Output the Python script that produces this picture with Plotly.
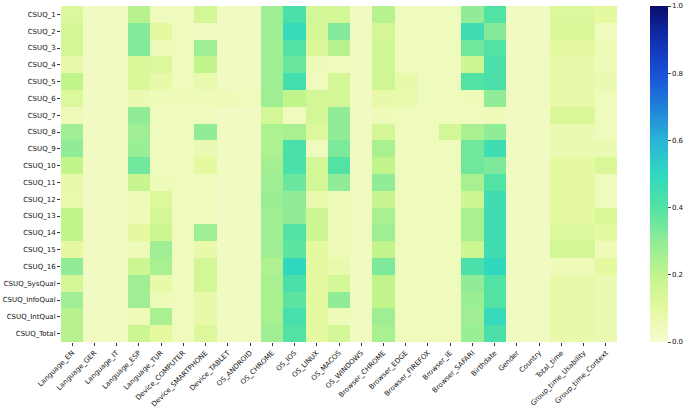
import plotly.graph_objects as go

rows = ["CSUQ_1", "CSUQ_2", "CSUQ_3", "CSUQ_4", "CSUQ_5", "CSUQ_6", "CSUQ_7", "CSUQ_8",
        "CSUQ_9", "CSUQ_10", "CSUQ_11", "CSUQ_12", "CSUQ_13", "CSUQ_14", "CSUQ_15", "CSUQ_16",
        "CSUQ_SysQual", "CSUQ_InfoQual", "CSUQ_IntQual", "CSUQ_Total"]

cols = ["Language_EN", "Language_GER", "Language_IT", "Language_ESP", "Language_TUR",
        "Device_COMPUTER", "Device_SMARTPHONE", "Device_TABLET", "OS_ANDROID", "OS_CHROME",
        "OS_IOS", "OS_LINUX", "OS_MACOS", "OS_WINDOWS", "Browser_CHROME", "Browser_EDGE",
        "Browser_FIREFOX", "Browser_IE", "Browser_SAFARI", "Birthdate", "Gender", "Country",
        "Total_time", "Group_time_Usability", "Group_time_Context"]

# values per row (correlation magnitudes), columns in order of `cols`
csuq_1 = [0.12, .03, .03, 0.22, .04, .04, 0.15, .03, .03, 0.27, 0.42, 0.15, 0.15, .03, 0.22, .04, .04, .04, 0.30, 0.40, .03, .03, 0.12, 0.12, 0.10]
csuq_2 = [0.15, .03, .03, 0.32, 0.10, .04, .03, .03, .03, 0.27, 0.48, 0.15, 0.32, .03, 0.15, .04, .04, .04, 0.45, 0.32, .03, .03, 0.13, 0.13, .04]
csuq_3 = [0.15, .03, .03, 0.32, .05, .04, 0.27, .03, .03, 0.27, 0.40, 0.13, 0.22, .03, 0.16, .04, .04, .04, 0.35, 0.40, .03, .03, 0.10, 0.10, .05]
csuq_4 = [0.08, .03, .03, 0.13, 0.12, .04, 0.20, .03, .03, 0.27, 0.36, .05, .04, .03, 0.16, .04, .04, .04, 0.17, 0.42, .03, .03, 0.08, 0.08, .05]
csuq_5 = [0.20, .03, .03, 0.13, 0.08, .04, 0.07, .03, .03, 0.27, 0.44, .04, 0.15, .03, 0.16, 0.08, .04, .04, 0.40, 0.42, .03, .03, 0.08, 0.08, .06]
csuq_6 = [0.12, .03, .03, .06, .05, .05, .05, .05, .04, 0.27, 0.20, 0.15, 0.15, .03, 0.08, 0.07, .04, .04, .05, 0.30, .03, .03, 0.08, 0.08, .04]
csuq_7 = [.05, .03, .03, 0.30, .04, .04, .04, .03, .03, 0.15, .04, 0.15, 0.30, .03, .05, .04, .04, .04, .04, .05, .03, .03, 0.13, 0.13, .04]
csuq_8 = [0.27, .03, .03, 0.27, .04, .04, 0.30, .03, .03, 0.24, 0.25, 0.12, 0.30, .03, 0.15, .04, .04, 0.15, 0.25, 0.30, .03, .03, .06, .06, .04]
csuq_9 = [0.30, .03, .03, 0.28, .04, .04, .06, .03, .03, 0.24, 0.42, .04, 0.33, .03, 0.25, .04, .04, .04, 0.35, 0.45, .03, .03, .06, .06, .06]
csuq_10 = [0.20, .03, .03, 0.35, .04, .04, 0.10, .03, .03, 0.26, 0.42, 0.15, 0.40, .03, 0.20, .04, .04, .04, 0.35, 0.33, .03, .03, 0.10, 0.10, 0.13]
csuq_11 = [0.08, .03, .03, 0.18, .05, .04, .04, .03, .03, 0.27, 0.36, 0.15, 0.30, .03, 0.30, .04, .04, .04, 0.25, 0.40, .03, .03, 0.10, 0.10, .04]
csuq_12 = [0.07, .03, .03, .05, 0.12, .04, .04, .03, .03, 0.28, 0.30, .07, .05, .03, 0.18, .04, .04, .04, 0.17, 0.45, .03, .03, 0.10, 0.10, .04]
csuq_13 = [0.20, .03, .03, .05, 0.15, .04, .04, .03, .03, 0.27, 0.30, 0.17, .05, .03, 0.25, .04, .04, .04, 0.25, 0.45, .03, .03, 0.10, 0.10, 0.13]
csuq_14 = [0.20, .03, .03, 0.10, 0.17, .04, 0.27, .03, .03, 0.27, 0.40, 0.17, .05, .03, 0.27, .04, .04, .04, 0.25, 0.45, .03, .03, 0.12, 0.12, 0.10]
csuq_15 = [0.10, .03, .03, .05, 0.27, .04, 0.08, .03, .03, 0.27, 0.38, 0.10, .05, .03, 0.20, .04, .04, .04, 0.17, 0.45, .03, .03, 0.15, 0.15, .05]
csuq_16 = [0.30, .03, .03, 0.17, 0.25, .04, 0.15, .03, .03, 0.24, 0.50, 0.10, .07, .03, 0.33, .04, .04, .04, 0.42, 0.50, .03, .03, .05, .05, 0.10]
csuq_sys = [0.15, .03, .03, 0.27, 0.08, .04, 0.15, .03, .03, 0.25, 0.42, 0.10, 0.15, .03, 0.20, .04, .04, .04, 0.30, 0.40, .03, .03, 0.08, 0.08, .06]
csuq_info = [0.27, .03, .03, 0.27, .05, .04, 0.08, .03, .03, 0.25, 0.38, 0.10, 0.30, .03, 0.20, .04, .04, .04, 0.28, 0.40, .03, .03, 0.08, 0.08, .06]
csuq_int = [0.22, .03, .03, .05, 0.25, .04, 0.08, .03, .03, 0.25, 0.43, 0.10, .05, .03, 0.27, .04, .04, .04, 0.27, 0.48, .03, .03, 0.08, 0.08, .06]
csuq_total = [0.22, .03, .03, 0.17, 0.10, .04, 0.12, .03, .03, 0.27, 0.40, 0.10, 0.15, .03, 0.25, .04, .04, .04, 0.28, 0.42, .03, .03, 0.08, 0.08, .06]

z = [csuq_1, csuq_2, csuq_3, csuq_4, csuq_5, csuq_6, csuq_7, csuq_8, csuq_9, csuq_10,
     csuq_11, csuq_12, csuq_13, csuq_14, csuq_15, csuq_16, csuq_sys, csuq_info, csuq_int, csuq_total]

cbar_ticks = [0, 0.2, 0.4, 0.6, 0.8, 1.0]
cbar_labels = ["0.0", "0.2", "0.4", "0.6", "0.8", "1.0"]

colorscale = [
    [0.0, "#f6fbd0"], [0.1, "#e4f9a0"], [0.2, "#c2f48c"], [0.3, "#90ec96"],
    [0.4, "#52e2a4"], [0.5, "#30d8c0"], [0.6, "#2ab4d6"], [0.7, "#2080da"],
    [0.8, "#1850d6"], [0.9, "#1030b0"], [1.0, "#0a0c6c"],
]

fig = go.Figure(go.Heatmap(
    z=z, x=cols, y=rows, zmin=0, zmax=1, colorscale=colorscale,
    colorbar=dict(
        x=1.059, xanchor="left", xpad=0, y=0.5, yanchor="middle", ypad=0,
        len=1.0, lenmode="fraction",
        thickness=18, outlinewidth=0, ticks="outside", ticklen=3,
        tickvals=cbar_ticks, ticktext=cbar_labels,
        tickfont=dict(size=7, color="#111"),
    ),
))

fig.update_layout(
    width=685, height=409,
    margin=dict(l=61, r=68, t=6, b=67, autoexpand=False),
    paper_bgcolor="white", plot_bgcolor="white",
    font=dict(family="DejaVu Sans", size=7, color="#111"),
)
fig.update_xaxes(tickangle=-45, ticks="outside", ticklen=3, tickcolor="#333", automargin=False,
                 tickfont=dict(size=7), showgrid=False, zeroline=False)
fig.update_yaxes(autorange="reversed", ticks="outside", ticklen=3, tickcolor="#333", automargin=False,
                 tickfont=dict(size=7), showgrid=False, zeroline=False)

fig.write_html("out.html", config={"displayModeBar": False},
               post_script="document.body.style.margin='0';")
